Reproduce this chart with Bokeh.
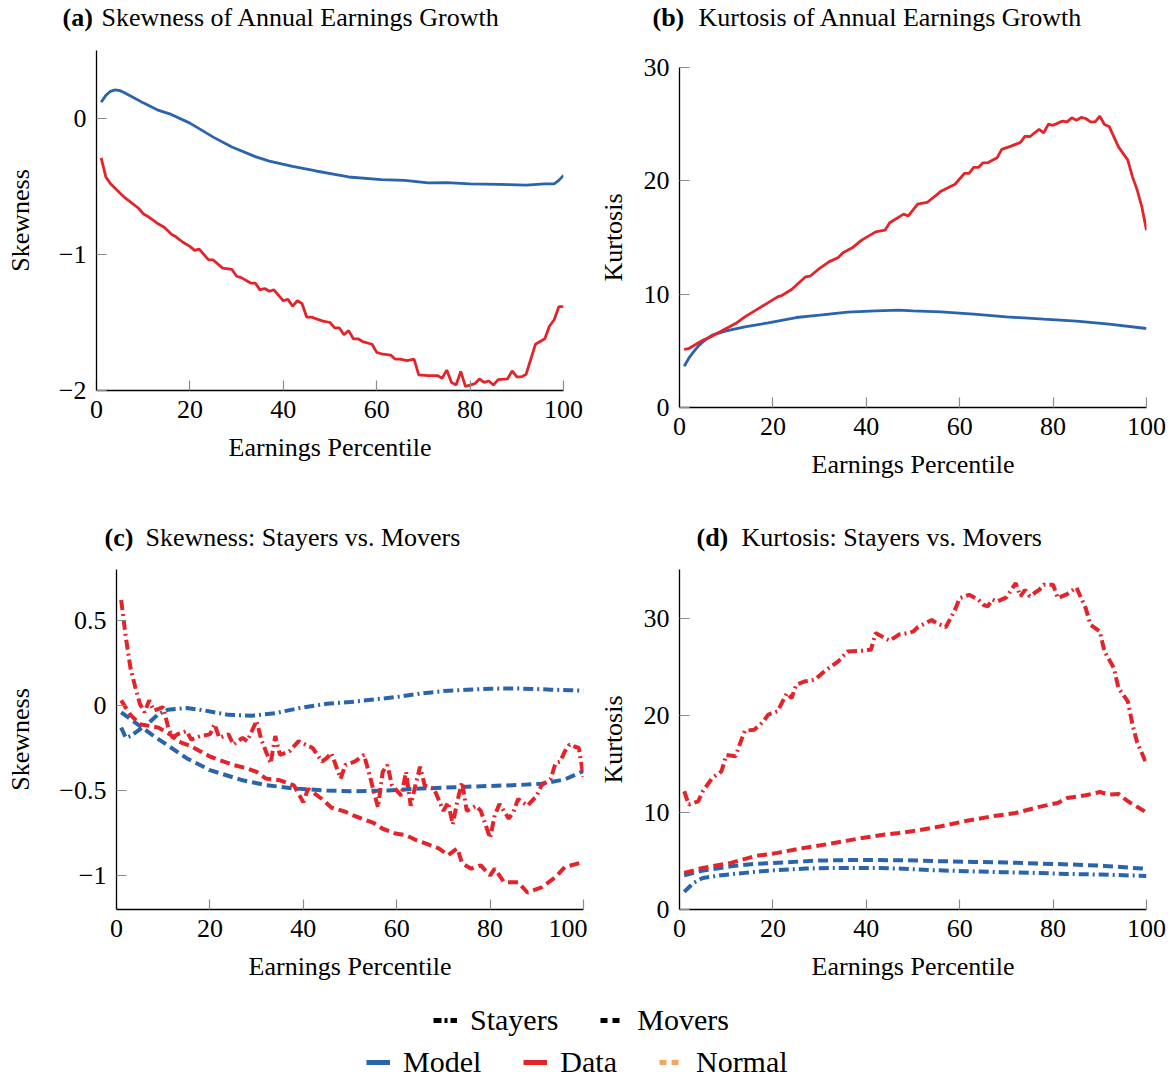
from bokeh.plotting import figure
from bokeh.layouts import column, row
from bokeh.models import Label, Legend, LegendItem, FixedTicker, Range1d
from bokeh.embed import file_html
from bokeh.resources import INLINE

FONT = "Liberation Serif"
BLUE = "#2a64ad"
RED = "#e3242b"
ORANGE = "#f4a65f"

PCT_TICKS = [0, 20, 40, 60, 80, 100]

# (a) skewness of annual earnings growth
a_model_x = [1, 2, 3, 4, 5, 6, 8, 10, 13, 16, 20, 25, 29, 34, 37, 42, 47, 51, 54, 61,
             66, 71, 75, 80, 86, 92, 96, 98, 99, 100]
a_model_y = [0.12, 0.17, 0.20, 0.21, 0.205, 0.19, 0.152, 0.115, 0.064, 0.03, -0.034, -0.137,
             -0.21, -0.28, -0.313, -0.352, -0.386, -0.41, -0.43, -0.45, -0.455, -0.474, -0.472,
             -0.48, -0.484, -0.49, -0.48, -0.48, -0.455, -0.418]
a_data_x = [1, 2, 3, 6, 9, 10, 11, 13, 14.5, 16, 17, 18.5, 20, 21, 22, 24, 25, 27, 29, 30,
            31, 33, 34, 35, 36, 37, 38, 39, 40, 41, 42, 43, 44, 45, 46, 48.5, 50, 51, 52, 53,
            54, 55, 56, 57, 59, 60, 61, 63, 64, 65, 66.5, 68, 69, 71, 73, 74, 75, 76, 77, 78,
            79, 80, 81, 82, 83, 84, 85, 86, 88, 89, 90, 91, 92, 94, 96, 97, 98, 99, 100]
a_data_y = [-0.29, -0.43, -0.48, -0.58, -0.66, -0.70, -0.72, -0.77, -0.80, -0.85,
            -0.87, -0.91, -0.94, -0.97, -0.96, -1.04, -1.04, -1.10, -1.11, -1.16,
            -1.17, -1.21, -1.21, -1.26, -1.25, -1.27, -1.26, -1.30, -1.34, -1.33,
            -1.38, -1.34, -1.36, -1.46, -1.46, -1.49, -1.50, -1.54, -1.54, -1.59,
            -1.56, -1.62, -1.62, -1.64, -1.66, -1.72, -1.73, -1.74, -1.77, -1.77,
            -1.78, -1.77, -1.885, -1.89, -1.89, -1.91, -1.85, -1.94, -1.96, -1.86,
            -1.97, -1.96, -1.95, -1.915, -1.94, -1.93, -1.96, -1.92, -1.915, -1.856,
            -1.90, -1.90, -1.88, -1.66, -1.62, -1.526, -1.48, -1.384, -1.384]

# (b) kurtosis of annual earnings growth
b_model_x = [1, 2, 3, 4, 5, 7, 10, 14, 19, 25, 30, 36, 42, 47, 50, 56, 63, 70, 78, 85, 92, 100]
b_model_y = [3.64, 4.35, 4.91, 5.4, 5.79, 6.38, 6.76, 7.11, 7.47, 7.94, 8.15, 8.41, 8.53, 8.59,
             8.53, 8.44, 8.23, 8.0, 7.79, 7.62, 7.35, 6.97]
b_data_x = [1, 2, 5, 7, 10, 12, 14, 16, 19, 21, 22, 24, 25, 27, 28, 30, 32, 34, 35, 37,
            39, 42, 44, 45, 48, 49, 51, 53, 55, 56, 59, 61, 62, 63, 64, 65, 66, 68, 69, 71,
            73, 74, 75, 77, 78, 79, 80, 82, 83, 84, 85, 86, 87, 88, 89, 90, 91, 92, 94, 96,
            97, 98, 99, 100]
b_data_y = [5.12, 5.2, 5.94, 6.3, 6.97, 7.41, 8.0, 8.5, 9.25, 9.76, 9.9, 10.41, 10.79, 11.53,
            11.6, 12.27, 12.85, 13.24, 13.65, 14.09, 14.77, 15.5, 15.65, 16.3, 17.06, 16.9,
            17.94, 18.09, 18.74, 19.09, 19.7, 20.65, 20.65, 21.18, 21.18, 21.59, 21.6, 22.03,
            22.77, 23.06, 23.39, 23.94, 23.89, 24.54, 24.24, 25.0, 24.9, 25.27, 25.2, 25.56,
            25.35, 25.59, 25.5, 25.2, 25.2, 25.7, 24.97, 24.8, 23.0, 21.83, 20.35, 19.2, 17.7,
            15.65]

# (c) skewness: stayers vs. movers
c_model_stay_x = [1, 2, 3, 5, 7, 9, 11, 15, 19, 24, 29, 34, 39, 45, 50, 55, 60, 65, 70, 75,
                  80, 86, 90, 93, 97, 100]
c_model_stay_y = [-0.13, -0.19, -0.18, -0.14, -0.1, -0.05, -0.025, -0.015, -0.03, -0.055,
                  -0.06, -0.045, -0.016, 0.01, 0.02, 0.035, 0.05, 0.07, 0.085, 0.093, 0.099,
                  0.1, 0.097, 0.093, 0.09, 0.087]
c_model_move_x = [1, 3, 6, 8, 11, 15, 20, 27, 32, 38, 45, 50, 58, 64, 75, 86, 91, 96, 100]
c_model_move_y = [-0.04, -0.08, -0.14, -0.18, -0.235, -0.31, -0.38, -0.44, -0.468, -0.488,
                  -0.50, -0.505, -0.50, -0.49, -0.478, -0.468, -0.46, -0.435, -0.385]
c_data_stay_x = [1, 2, 3, 4, 5, 6, 7, 8, 10, 11, 12, 13, 15, 16, 18, 20, 21, 22, 24, 25,
                 27, 28, 30, 31, 32, 33, 34, 35, 37, 39, 42, 44, 45, 46, 48, 49, 51, 53, 54, 56,
                 57, 58, 59, 61, 62, 63, 64, 65, 66, 68, 70, 71, 72, 73, 74, 75, 77, 78, 80, 81,
                 82, 84, 85, 86, 88, 90, 91, 93, 94, 95, 96, 97, 99, 100]
c_data_stay_y = [0.62, 0.40, 0.22, 0.11, 0.01, -0.04, 0.03, -0.03, -0.01, -0.12,
                 -0.19, -0.17, -0.15, -0.2, -0.18, -0.17, -0.11, -0.19, -0.17, -0.23,
                 -0.19, -0.21, -0.09, -0.2, -0.27, -0.34, -0.18, -0.29, -0.27, -0.21,
                 -0.25, -0.33, -0.31, -0.28, -0.43, -0.35, -0.33, -0.29, -0.39, -0.6,
                 -0.39, -0.35, -0.47, -0.53, -0.39, -0.59, -0.47, -0.36, -0.47, -0.49,
                 -0.62, -0.57, -0.70, -0.56, -0.45, -0.62, -0.59, -0.62, -0.78, -0.645,
                 -0.58, -0.665, -0.625, -0.55, -0.59, -0.53, -0.47, -0.43, -0.34, -0.33,
                 -0.27, -0.23, -0.25, -0.42]
c_data_move_x = [1, 3, 5, 7, 9, 12, 13, 16, 18, 20, 23, 25, 28, 30, 32, 35, 38, 40, 41, 44,
                 46, 49, 51, 53, 55, 57, 60, 62, 64, 67, 69, 71, 73, 74, 76, 78, 80, 81, 83, 86,
                 88, 91, 94, 96, 100]
c_data_move_y = [0.03, -0.055, -0.11, -0.12, -0.13, -0.18, -0.21, -0.24, -0.27, -0.30,
                 -0.33, -0.35, -0.37, -0.39, -0.43, -0.44, -0.47, -0.57, -0.49, -0.55,
                 -0.6, -0.625, -0.65, -0.67, -0.69, -0.725, -0.755, -0.763, -0.79, -0.82,
                 -0.84, -0.88, -0.84, -0.93, -0.96, -0.94, -1.0, -0.96, -1.04, -1.04,
                 -1.1, -1.07, -1.01, -0.95, -0.92]

# (d) kurtosis: stayers vs. movers
d_model_stay_x = [1, 3, 5, 9, 14, 19, 27, 34, 41, 48, 54, 61, 69, 76, 83, 90, 97, 100]
d_model_stay_y = [1.81, 2.74, 3.25, 3.53, 3.77, 4.0, 4.22, 4.28, 4.28, 4.2, 4.05, 3.95, 3.84,
                  3.77, 3.66, 3.6, 3.5, 3.45]
d_model_move_x = [1, 5, 11, 16, 23, 30, 38, 48, 56, 63, 70, 77, 84, 91, 97, 100]
d_model_move_y = [3.53, 4.0, 4.45, 4.69, 4.87, 5.04, 5.1, 5.07, 4.97, 4.9, 4.84, 4.73, 4.63,
                  4.49, 4.28, 4.2]
d_data_stay_x = [1, 2, 4, 5, 7, 9, 10, 12, 13, 14, 16, 18, 19, 21, 23, 24, 25, 27, 29, 31,
                 32, 34, 36, 39, 41, 42, 45, 47, 49, 50, 51, 54, 55, 57, 59, 60, 62, 64, 65, 66,
                 67, 68, 70, 72, 73, 74, 75, 77, 78, 80, 81, 83, 85, 86, 87, 88, 90, 91, 93, 94,
                 96, 97, 98, 100]
d_data_stay_y = [12.17, 10.8, 11.14, 12.17, 13.54, 14.23, 15.9, 15.77, 17.14, 18.4,
                 18.5, 19.37, 20.06, 20.4, 22.28, 21.77, 23.14, 23.5, 23.66, 24.5,
                 24.86, 25.55, 26.57, 26.64, 26.75, 28.46, 27.67, 28.3, 28.46, 28.6,
                 29.05, 29.8, 29.5, 29.05, 30.85, 32.05, 32.4, 31.9, 31.38, 31.2,
                 31.9, 31.7, 32.13, 33.6, 32.24, 32.9, 32.24, 32.9, 33.44, 33.44,
                 32.05, 32.47, 33.15, 32.05, 31.0, 29.32, 28.63, 26.57, 24.86, 22.8,
                 21.43, 19.03, 17.2, 15.0]
d_data_move_x = [1, 5, 11, 16, 21, 26, 32, 38, 44, 47, 51, 56, 61, 67, 72, 77, 81, 83, 87,
                 90, 92, 94, 96, 100]
d_data_move_y = [3.77, 4.28, 4.8, 5.48, 5.83, 6.28, 6.75, 7.27, 7.72, 7.88, 8.13, 8.57, 9.08,
                 9.6, 9.94, 10.56, 10.97, 11.48, 11.76, 12.1, 11.83, 11.9, 11.14, 10.0]

DASH = "10 5"
DASHDOT = "10 4 2 4"
FW, FH = 467, 340
W_HALF = 587


def panel(left, top, bottom, yrange, yticks, ylabels, ylabel, ystandoff):
    p = figure(frame_width=FW, frame_height=FH,
               min_border_left=left, min_border_right=W_HALF - left - FW,
               min_border_top=top, min_border_bottom=bottom,
               x_range=Range1d(0, 100), y_range=Range1d(*yrange),
               toolbar_location=None, output_backend="svg")
    p.outline_line_color = None
    p.grid.visible = False
    p.xaxis.ticker = FixedTicker(ticks=PCT_TICKS)
    p.yaxis.ticker = FixedTicker(ticks=yticks)
    p.yaxis.major_label_overrides = {t: l for t, l in zip(yticks, ylabels)}
    p.xaxis.axis_label = "Earnings Percentile"
    p.yaxis.axis_label = ylabel
    p.yaxis.axis_label_standoff = ystandoff
    p.xaxis.axis_label_standoff = 12
    for ax in p.axis:
        ax.axis_line_color = "black"
        ax.axis_line_width = 1.3
        ax.major_tick_line_color = "#8c8c8c"
        ax.major_tick_line_width = 1.2
        ax.major_tick_in = 10
        ax.major_tick_out = 0
        ax.minor_tick_line_color = None
        ax.major_label_standoff = 10
        ax.major_label_text_font = FONT
        ax.major_label_text_font_size = "26px"
        ax.major_label_text_color = "black"
        ax.axis_label_text_font = FONT
        ax.axis_label_text_font_size = "26px"
        ax.axis_label_text_font_style = "normal"
        ax.axis_label_text_color = "black"
    return p


def title_strip(height, y, entries):
    s = figure(frame_width=1174, frame_height=height, min_border=0,
               x_range=Range1d(0, 1174), y_range=Range1d(0, height),
               x_axis_location=None, y_axis_location=None,
               toolbar_location=None, output_backend="svg")
    s.outline_line_color = None
    s.grid.visible = False
    for x_tag, tag, x_txt, txt in entries:
        s.add_layout(Label(x=x_tag, y=y, text=tag, text_font=FONT, text_font_size="26px",
                           text_font_style="bold", text_baseline="middle", text_color="black"))
        s.add_layout(Label(x=x_txt, y=y, text=txt, text_font=FONT, text_font_size="26px",
                           text_baseline="middle", text_color="black"))
    return s


top_titles = title_strip(34, 17, [
    (62, "(a)", 101, "Skewness of Annual Earnings Growth"),
    (652, "(b)", 698, "Kurtosis of Annual Earnings Growth"),
])

pa = panel(96, 16, 90, (-2, 0.5), [-2, -1, 0], ["\u22122", "\u22121", "0"], "Skewness", 21)
pa.line(a_model_x, a_model_y, line_color=BLUE, line_width=2.8)
pa.line(a_data_x, a_data_y, line_color=RED, line_width=2.8)

pb = panel(92, 33, 73, (0, 30), [0, 10, 20, 30], ["0", "10", "20", "30"], "Kurtosis", 13)
pb.line(b_model_x, b_model_y, line_color=BLUE, line_width=2.8)
pb.line(b_data_x, b_data_y, line_color=RED, line_width=2.8)

mid_titles = title_strip(76, 20, [
    (104, "(c)", 145, "Skewness: Stayers vs. Movers"),
    (696, "(d)", 741, "Kurtosis: Stayers vs. Movers"),
])

pc = panel(116, 12, 82, (-1.2, 0.8), [-1, -0.5, 0, 0.5],
           ["\u22121", "\u22120.5", "0", "0.5"], "Skewness", 21)
pc.line(c_model_move_x, c_model_move_y, line_color=BLUE, line_width=4, line_dash=DASH)
pc.line(c_model_stay_x, c_model_stay_y, line_color=BLUE, line_width=4, line_dash=DASHDOT)
pc.line(c_data_move_x, c_data_move_y, line_color=RED, line_width=4, line_dash=DASH)
pc.line(c_data_stay_x, c_data_stay_y, line_color=RED, line_width=4, line_dash=DASHDOT)

pd_ = panel(92, 12, 82, (0, 35), [0, 10, 20, 30], ["0", "10", "20", "30"], "Kurtosis", 13)
pd_.line(d_model_move_x, d_model_move_y, line_color=BLUE, line_width=4, line_dash=DASH)
pd_.line(d_model_stay_x, d_model_stay_y, line_color=BLUE, line_width=4, line_dash=DASHDOT)
pd_.line(d_data_move_x, d_data_move_y, line_color=RED, line_width=4, line_dash=DASH)
pd_.line(d_data_stay_x, d_data_stay_y, line_color=RED, line_width=4, line_dash=DASHDOT)

# shared legend strip (sample renderers sit outside the visible range)
lg = figure(frame_width=1174, frame_height=88, min_border=0,
            x_range=Range1d(0, 1), y_range=Range1d(0, 1),
            x_axis_location=None, y_axis_location=None,
            toolbar_location=None, output_backend="svg")
lg.outline_line_color = None
lg.grid.visible = False
off_x, off_y = [5, 6], [5, 5]
r_stay = lg.line(off_x, off_y, line_color="black", line_width=5, line_dash="8 3 3 3")
r_move = lg.line(off_x, off_y, line_color="black", line_width=5, line_dash="7 5")
r_model = lg.line(off_x, off_y, line_color=BLUE, line_width=5)
r_data = lg.line(off_x, off_y, line_color=RED, line_width=5)
r_norm = lg.line(off_x, off_y, line_color=ORANGE, line_width=5, line_dash="7 5")


def strip_legend(items, loc):
    leg = Legend(items=[LegendItem(label=l, renderers=[r]) for l, r in items],
                 orientation="horizontal", location=loc, padding=0, margin=0, spacing=42,
                 label_standoff=13, glyph_width=24, glyph_height=20,
                 label_text_font=FONT, label_text_font_size="30px", label_text_color="black",
                 border_line_color=None, background_fill_alpha=0)
    lg.add_layout(leg)


strip_legend([("Stayers", r_stay), ("Movers", r_move)], (433, 42))
strip_legend([("Model", r_model), ("Data", r_data), ("Normal", r_norm)], (366, 0))

# each top panel wrapped on its own so that their frames keep separate offsets
layout = column(top_titles, row(column(pa), column(pb)), mid_titles, row(pc, pd_), lg)
open("out.html", "w").write(file_html(layout, INLINE))
